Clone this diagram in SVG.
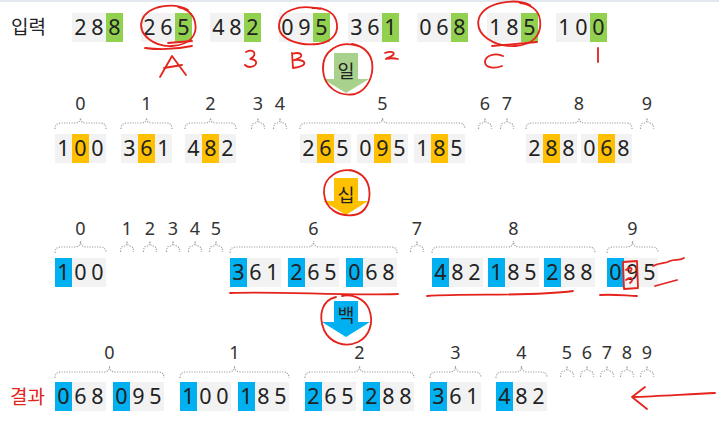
<svg xmlns="http://www.w3.org/2000/svg" xmlns:xlink="http://www.w3.org/1999/xlink" width="719" height="436" viewBox="0 0 719 436">
<style>
.bx{fill:#f2f2f2}
.g{fill:#92d050}
.o{fill:#ffc000}
.b{fill:#00b0f0}
.d{font-family:'Noto Sans','Noto Sans CJK KR',sans-serif;font-size:21.5px;fill:#222;text-anchor:middle}
.lb{font-family:'Noto Sans','Noto Sans CJK KR',sans-serif;font-size:18px;fill:#333;text-anchor:middle}
.br{fill:none;stroke:#a0a0a0;stroke-width:1.2;stroke-dasharray:1.2 1.3}
.kr{font-family:'Noto Sans CJK KR','Noto Sans',sans-serif;font-size:19px}
.ak{font-family:'Noto Sans CJK KR','Noto Sans',sans-serif;font-size:18.5px;fill:#222;text-anchor:middle}
.red{fill:none;stroke:#e3231c;stroke-width:1.8;stroke-linecap:round;stroke-linejoin:round}
</style>
<defs>
<path id="sb" d="M-6.5 11 Q-6.5 5 -3 5 Q0 5 0 0 Q0 5 3 5 Q6.5 5 6.5 11"/>
</defs>
<rect x="0" y="0" width="719" height="2" fill="#e3e8ee"/>

<!-- Row 1: input -->
<g id="row-input">
<text class="kr" x="11" y="34" fill="#222">입력</text>
<g id="in-288"><rect class="bx" x="72" y="13" width="51" height="29"/><rect class="g" x="106" y="13" width="17" height="29"/><text class="d" x="80.5 97.5 114.5" y="35">288</text></g>
<g id="in-265"><rect class="bx" x="141" y="13" width="51" height="29"/><rect class="g" x="175" y="13" width="17" height="29"/><text class="d" x="149.5 166.5 183.5" y="35">265</text></g>
<g id="in-482"><rect class="bx" x="210" y="13" width="51" height="29"/><rect class="g" x="244" y="13" width="17" height="29"/><text class="d" x="218.5 235.5 252.5" y="35">482</text></g>
<g id="in-095"><rect class="bx" x="279" y="13" width="51" height="29"/><rect class="g" x="313" y="13" width="17" height="29"/><text class="d" x="287.5 304.5 321.5" y="35">095</text></g>
<g id="in-361"><rect class="bx" x="348" y="13" width="51" height="29"/><rect class="g" x="382" y="13" width="17" height="29"/><text class="d" x="356.5 373.5 390.5" y="35">361</text></g>
<g id="in-068"><rect class="bx" x="417" y="13" width="51" height="29"/><rect class="g" x="451" y="13" width="17" height="29"/><text class="d" x="425.5 442.5 459.5" y="35">068</text></g>
<g id="in-185"><rect class="bx" x="487" y="13" width="51" height="29"/><rect class="g" x="521" y="13" width="17" height="29"/><text class="d" x="495.5 512.5 529.5" y="35">185</text></g>
<g id="in-100"><rect class="bx" x="556" y="13" width="51" height="29"/><rect class="g" x="590" y="13" width="17" height="29"/><text class="d" x="564.5 581.5 598.5" y="35">100</text></g>
</g>

<!-- Row 2: by ones digit -->
<g id="row-ones">
<g id="r2-b0"><text class="lb" x="80.5" y="110">0</text><path class="br" d="M55 129 Q55 123 61 123 H74.5 Q80.5 123 80.5 118 Q80.5 123 86.5 123 H100 Q106 123 106 129"/>
<rect class="bx" x="55" y="134" width="51" height="29"/><rect class="o" x="72" y="134" width="17" height="29"/><text class="d" x="63.5 80.5 97.5" y="156">100</text></g>
<g id="r2-b1"><text class="lb" x="146.5" y="110">1</text><path class="br" d="M121 129 Q121 123 127 123 H140.5 Q146.5 123 146.5 118 Q146.5 123 152.5 123 H166 Q172 123 172 129"/>
<rect class="bx" x="121" y="134" width="51" height="29"/><rect class="o" x="138" y="134" width="17" height="29"/><text class="d" x="129.5 146.5 163.5" y="156">361</text></g>
<g id="r2-b2"><text class="lb" x="210.5" y="110">2</text><path class="br" d="M185 129 Q185 123 191 123 H204.5 Q210.5 123 210.5 118 Q210.5 123 216.5 123 H230 Q236 123 236 129"/>
<rect class="bx" x="185" y="134" width="51" height="29"/><rect class="o" x="202" y="134" width="17" height="29"/><text class="d" x="193.5 210.5 227.5" y="156">482</text></g>
<g id="r2-b3"><text class="lb" x="258" y="110">3</text><use class="br" href="#sb" x="258" y="118"/></g>
<g id="r2-b4"><text class="lb" x="280" y="110">4</text><use class="br" href="#sb" x="280" y="118"/></g>
<g id="r2-b5"><text class="lb" x="382.5" y="110">5</text><path class="br" d="M300 129 Q300 123 306 123 H376.5 Q382.5 123 382.5 118 Q382.5 123 388.5 123 H459 Q465 123 465 129"/>
<rect class="bx" x="300" y="134" width="51" height="29"/><rect class="o" x="317" y="134" width="17" height="29"/><text class="d" x="308.5 325.5 342.5" y="156">265</text>
<rect class="bx" x="357" y="134" width="51" height="29"/><rect class="o" x="374" y="134" width="17" height="29"/><text class="d" x="365.5 382.5 399.5" y="156">095</text>
<rect class="bx" x="414" y="134" width="51" height="29"/><rect class="o" x="431" y="134" width="17" height="29"/><text class="d" x="422.5 439.5 456.5" y="156">185</text></g>
<g id="r2-b6"><text class="lb" x="485" y="110">6</text><use class="br" href="#sb" x="485" y="118"/></g>
<g id="r2-b7"><text class="lb" x="507" y="110">7</text><use class="br" href="#sb" x="507" y="118"/></g>
<g id="r2-b8"><text class="lb" x="579" y="110">8</text><path class="br" d="M526 129 Q526 123 532 123 H573 Q579 123 579 118 Q579 123 585 123 H626 Q632 123 632 129"/>
<rect class="bx" x="526" y="134" width="51" height="29"/><rect class="o" x="543" y="134" width="17" height="29"/><text class="d" x="534.5 551.5 568.5" y="156">288</text>
<rect class="bx" x="581" y="134" width="51" height="29"/><rect class="o" x="598" y="134" width="17" height="29"/><text class="d" x="589.5 606.5 623.5" y="156">068</text></g>
<g id="r2-b9"><text class="lb" x="647" y="110">9</text><use class="br" href="#sb" x="647" y="118"/></g>
</g>

<!-- Row 3: by tens digit -->
<g id="row-tens">
<g id="r3-b0"><text class="lb" x="80.5" y="235">0</text><path class="br" d="M55 253 Q55 247 61 247 H74.5 Q80.5 247 80.5 241 Q80.5 247 86.5 247 H100 Q106 247 106 253"/>
<rect class="bx" x="55" y="258" width="51" height="29"/><rect class="b" x="55" y="258" width="17" height="29"/><text class="d" x="63.5 80.5 97.5" y="280">100</text></g>
<g id="r3-b1"><text class="lb" x="127" y="235">1</text><use class="br" href="#sb" x="127" y="241"/></g>
<g id="r3-b2"><text class="lb" x="150" y="235">2</text><use class="br" href="#sb" x="150" y="241"/></g>
<g id="r3-b3"><text class="lb" x="173" y="235">3</text><use class="br" href="#sb" x="173" y="241"/></g>
<g id="r3-b4"><text class="lb" x="195" y="235">4</text><use class="br" href="#sb" x="195" y="241"/></g>
<g id="r3-b5"><text class="lb" x="216" y="235">5</text><use class="br" href="#sb" x="216" y="241"/></g>
<g id="r3-b6"><text class="lb" x="313.5" y="235">6</text><path class="br" d="M230 253 Q230 247 236 247 H307.5 Q313.5 247 313.5 241 Q313.5 247 319.5 247 H391 Q397 247 397 253"/>
<rect class="bx" x="230" y="258" width="51" height="29"/><rect class="b" x="230" y="258" width="17" height="29"/><text class="d" x="238.5 255.5 272.5" y="280">361</text>
<rect class="bx" x="288" y="258" width="51" height="29"/><rect class="b" x="288" y="258" width="17" height="29"/><text class="d" x="296.5 313.5 330.5" y="280">265</text>
<rect class="bx" x="346" y="258" width="51" height="29"/><rect class="b" x="346" y="258" width="17" height="29"/><text class="d" x="354.5 371.5 388.5" y="280">068</text></g>
<g id="r3-b7"><text class="lb" x="417" y="235">7</text><use class="br" href="#sb" x="417" y="241"/></g>
<g id="r3-b8"><text class="lb" x="513.5" y="235">8</text><path class="br" d="M432 253 Q432 247 438 247 H507.5 Q513.5 247 513.5 241 Q513.5 247 519.5 247 H589 Q595 247 595 253"/>
<rect class="bx" x="432" y="258" width="51" height="29"/><rect class="b" x="432" y="258" width="17" height="29"/><text class="d" x="440.5 457.5 474.5" y="280">482</text>
<rect class="bx" x="488" y="258" width="51" height="29"/><rect class="b" x="488" y="258" width="17" height="29"/><text class="d" x="496.5 513.5 530.5" y="280">185</text>
<rect class="bx" x="544" y="258" width="51" height="29"/><rect class="b" x="544" y="258" width="17" height="29"/><text class="d" x="552.5 569.5 586.5" y="280">288</text></g>
<g id="r3-b9"><text class="lb" x="632.5" y="235">9</text><path class="br" d="M607 253 Q607 247 613 247 H626.5 Q632.5 247 632.5 241 Q632.5 247 638.5 247 H652 Q658 247 658 253"/>
<rect class="bx" x="607" y="258" width="51" height="29"/><rect class="b" x="607" y="258" width="17" height="29"/><text class="d" x="615.5 632.5 649.5" y="280">095</text></g>
</g>

<!-- Row 4: result by hundreds digit -->
<g id="row-hundreds">
<text class="kr" x="10" y="404" fill="#e3231c">결과</text>
<g id="r4-b0"><text class="lb" x="109.5" y="359">0</text><path class="br" d="M55 378 Q55 372 61 372 H103.5 Q109.5 372 109.5 366 Q109.5 372 115.5 372 H158 Q164 372 164 378"/>
<rect class="bx" x="55" y="382" width="51" height="29"/><rect class="b" x="55" y="382" width="17" height="29"/><text class="d" x="63.5 80.5 97.5" y="404">068</text>
<rect class="bx" x="113" y="382" width="51" height="29"/><rect class="b" x="113" y="382" width="17" height="29"/><text class="d" x="121.5 138.5 155.5" y="404">095</text></g>
<g id="r4-b1"><text class="lb" x="234.5" y="359">1</text><path class="br" d="M180 378 Q180 372 186 372 H228.5 Q234.5 372 234.5 366 Q234.5 372 240.5 372 H283 Q289 372 289 378"/>
<rect class="bx" x="180" y="382" width="51" height="29"/><rect class="b" x="180" y="382" width="17" height="29"/><text class="d" x="188.5 205.5 222.5" y="404">100</text>
<rect class="bx" x="238" y="382" width="51" height="29"/><rect class="b" x="238" y="382" width="17" height="29"/><text class="d" x="246.5 263.5 280.5" y="404">185</text></g>
<g id="r4-b2"><text class="lb" x="359.5" y="359">2</text><path class="br" d="M305 378 Q305 372 311 372 H353.5 Q359.5 372 359.5 366 Q359.5 372 365.5 372 H408 Q414 372 414 378"/>
<rect class="bx" x="305" y="382" width="51" height="29"/><rect class="b" x="305" y="382" width="17" height="29"/><text class="d" x="313.5 330.5 347.5" y="404">265</text>
<rect class="bx" x="363" y="382" width="51" height="29"/><rect class="b" x="363" y="382" width="17" height="29"/><text class="d" x="371.5 388.5 405.5" y="404">288</text></g>
<g id="r4-b3"><text class="lb" x="455.5" y="359">3</text><path class="br" d="M430 378 Q430 372 436 372 H449.5 Q455.5 372 455.5 366 Q455.5 372 461.5 372 H475 Q481 372 481 378"/>
<rect class="bx" x="430" y="382" width="51" height="29"/><rect class="b" x="430" y="382" width="17" height="29"/><text class="d" x="438.5 455.5 472.5" y="404">361</text></g>
<g id="r4-b4"><text class="lb" x="521.5" y="359">4</text><path class="br" d="M496 378 Q496 372 502 372 H515.5 Q521.5 372 521.5 366 Q521.5 372 527.5 372 H541 Q547 372 547 378"/>
<rect class="bx" x="496" y="382" width="51" height="29"/><rect class="b" x="496" y="382" width="17" height="29"/><text class="d" x="504.5 521.5 538.5" y="404">482</text></g>
<g id="r4-b5"><text class="lb" x="567" y="359">5</text><use class="br" href="#sb" x="567" y="366"/></g>
<g id="r4-b6"><text class="lb" x="587" y="359">6</text><use class="br" href="#sb" x="587" y="366"/></g>
<g id="r4-b7"><text class="lb" x="607" y="359">7</text><use class="br" href="#sb" x="607" y="366"/></g>
<g id="r4-b8"><text class="lb" x="627" y="359">8</text><use class="br" href="#sb" x="627" y="366"/></g>
<g id="r4-b9"><text class="lb" x="647" y="359">9</text><use class="br" href="#sb" x="647" y="366"/></g>
</g>

<!-- Step arrows -->
<g id="connectors">
<g id="arrow-ones"><polygon points="334,53 358,53 358,79 369,79 346,93 323,79 334,79" fill="#a9d18e"/><text class="ak" x="346" y="78">일</text></g>
<g id="arrow-tens"><polygon points="334,178 358,178 358,201 368,201 346,215 323,201 334,201" fill="#ffc000"/><text class="ak" x="346" y="202">십</text></g>
<g id="arrow-hundreds"><polygon points="334,301 358,301 358,322 370,322 346,337 322,322 334,322" fill="#00b0f0"/><text class="ak" x="346" y="322">백</text></g>
</g>

<!-- Hand-drawn red annotations -->
<g id="annotations" class="red">
<path d="M188 10 C175 2 148 5 142 20 C137 35 155 47 172 46 C190 45 198 35 195 22 C193 13 185 8 178 7"/>
<path d="M168 43 L192 41 M145 48 C160 50 178 49 192 46"/>
<path d="M160 77 L172 56 L186 75 M164 68 L182 65"/>
<path d="M246 52 C252 49 257 52 253 57 C251 59 249 59 251 59 C258 60 258 66 250 67 C248 67 246 66 245 65"/>
<path d="M320 9 C300 4 280 10 279 25 C278 40 300 46 318 44 C333 42 340 32 336 20 C333 11 322 7 312 8"/>
<path d="M292 53 L293 68 M292 54 C302 51 306 57 294 60 C306 59 310 66 293 68"/>
<path d="M358 46 C340 40 322 50 323 70 C324 88 340 97 355 94 C368 90 374 75 372 62 C370 52 362 46 352 44"/>
<path d="M385 53 C390 51 396 52 393 55 C391 57 387 58 386 59 C390 58 394 58 398 59"/>
<path d="M530 5 C515 -2 485 2 479 18 C474 35 495 47 515 46 C533 45 542 35 540 20 C539 10 530 4 520 3"/>
<path d="M492 46 L537 42"/>
<path d="M503 56 C495 52 485 56 485 62 C485 68 495 69 502 66"/>
<path d="M598 48 L598 62"/>
<path d="M357 172 C340 166 323 177 324 193 C325 210 340 217 354 215 C367 213 371 200 369 188 C367 178 360 172 350 170"/>
<path d="M230 293 C280 291 340 296 398 294"/>
<path d="M427 296 C470 293 530 297 573 291"/>
<path d="M600 295 C615 294 628 296 637 296"/>
<path d="M623 262 L637 261 L638 288 L624 289 Z"/>
<path d="M626 270 C630 266 634 268 630 272 M626 280 C631 276 635 279 630 283"/>
<path d="M653 266 C660 262 665 264 670 261 C675 259 679 261 684 258 M655 286 L677 280"/>
<path d="M336 297 C322 300 318 315 324 330 C330 343 345 348 358 342 C370 336 374 322 369 309 C364 298 352 294 342 296"/>
<path d="M715 393 C690 394 660 396 632 397 M645 387 L632 397 L647 409"/>
</g>
</svg>
